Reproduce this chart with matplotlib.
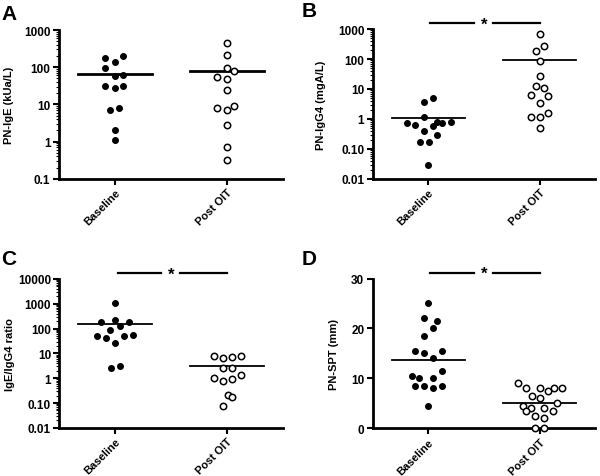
import numpy as np
import matplotlib
matplotlib.use("Agg")
import matplotlib.pyplot as plt
import matplotlib.transforms as mtransforms
from matplotlib.ticker import LogLocator, NullFormatter

plt.rcParams['font.family'] = ['Liberation Sans', 'DejaVu Sans']
plt.rcParams['font.weight'] = 'bold'

groups = ["Baseline", "Post OIT"]

# A: PN-IgE (kUa/L)
a_base = [182, 199, 134, 94, 59, 62, 31.6, 27.5, 31.6, 7.1, 7.8, 2.0, 1.1]
a_base_dx = [-0.09, 0.075, 0, -0.09, 0, 0.075, -0.09, 0, 0.075, -0.04, 0.035, 0, 0]
a_post = [440, 215, 95, 79, 53, 48, 24, 7.8, 9.2, 7.0, 2.86, 0.71, 0.33]
a_post_dx = [0, 0, 0, 0.07, -0.09, 0, 0, -0.09, 0.07, 0, 0, 0, 0]
a_medians = [66, 77]
a_ticks = [0.1, 1, 10, 100, 1000]
a_ticklabels = ["0.1", "1", "10", "100", "1000"]

# B: PN-IgG4 (mgA/L)
b_base = [5.0, 3.8, 1.14, 0.72, 0.63, 0.60, 0.81, 0.72, 0.76, 0.39, 0.29, 0.175, 0.175, 0.030]
b_base_dx = [0.045, -0.035, -0.035, -0.19, -0.12, 0.045, 0.08, 0.125, 0.2, -0.035, 0.08, -0.075, 0.005, 0]
b_post = [680, 278, 180, 88, 28, 12.9, 11.0, 6.5, 5.8, 3.3, 1.14, 1.14, 1.58, 0.5]
b_post_dx = [0, 0.04, -0.035, 0, 0, -0.035, 0.04, -0.08, 0.08, 0, -0.08, 0, 0.08, 0]
b_medians = [1.1, 93]
b_ticks = [0.01, 0.1, 1, 10, 100, 1000]
b_ticklabels = ["0.01", "0.10", "1", "10", "100", "1000"]

# C: IgE/IgG4 ratio
c_base = [1050, 190, 229, 190, 132, 89, 49, 41, 49, 56, 26, 2.6, 3.1]
c_base_dx = [0, -0.125, 0, 0.12, 0.04, -0.045, -0.165, -0.085, 0.08, 0.16, 0, -0.04, 0.04]
c_post = [8.0, 6.8, 7.4, 8.0, 2.5, 2.5, 1.06, 0.78, 0.95, 1.3, 0.21, 0.17, 0.075]
c_post_dx = [-0.115, -0.035, 0.045, 0.125, -0.035, 0.045, -0.115, -0.035, 0.045, 0.125, 0.01, 0.045, -0.035]
c_medians = [155, 3.0]
c_ticks = [0.01, 0.1, 1, 10, 100, 1000, 10000]
c_ticklabels = ["0.01", "0.10", "1", "10", "100", "1000", "10000"]

# D: PN-SPT (mm)
d_base = [25, 22, 21.5, 20, 18.5, 15.5, 15, 15.5, 14, 11.5, 10.5, 10, 10, 8.5, 8.5, 8, 8.5, 4.5]
d_base_dx = [0, -0.04, 0.08, 0.045, -0.04, -0.12, -0.04, 0.12, 0.045, 0.12, -0.15, -0.08, 0.045, -0.12, -0.04, 0.045, 0.12, 0]
d_post = [9, 8, 8, 7.5, 8, 8, 6.5, 6, 4.5, 4, 4, 5, 3.5, 3.5, 2.5, 2, 0, 0]
d_post_dx = [-0.19, -0.12, 0, 0.08, 0.13, 0.2, -0.07, 0, -0.15, -0.08, 0.04, 0.16, -0.12, 0.12, -0.04, 0.04, -0.04, 0.04]
d_medians = [13.7, 5.0]
d_ticks = [0, 10, 20, 30]
d_ticklabels = ["0", "10", "20", "30"]

fig = plt.figure(figsize=(6, 4.77), dpi=100)


def draw_panel(rect, letter, letter_xy, ylabel, label_x, base, base_dx, post, post_dx,
               medians, ticks, ticklabels, log=True, star=False, median_lw=1.3):
    ax = fig.add_axes(rect)
    ax.plot([0 + d for d in base_dx], base, 'o', ms=4, mfc='black', mec='black',
            ls='none', clip_on=False, zorder=3)
    ax.plot([1 + d for d in post_dx], post, 'o', ms=4.6, mfc='white', mec='black',
            mew=1.1, ls='none', clip_on=False, zorder=3)
    for i, m in enumerate(medians):
        ax.plot([i - 0.33, i + 0.33], [m, m], color='black', lw=median_lw, zorder=2)

    if log:
        ax.set_yscale('log')
        ax.yaxis.set_minor_locator(LogLocator(base=10, subs=np.arange(2, 10), numticks=100))
        ax.yaxis.set_minor_formatter(NullFormatter())
    ax.set_ylim(ticks[0], ticks[-1])
    ax.set_yticks(ticks)
    ax.set_yticklabels(ticklabels)
    ax.set_xlim(-0.5, 1.5)
    ax.set_xticks([0, 1])
    ax.set_xticklabels(groups, rotation=45, ha='right', rotation_mode='anchor')

    for s in ['top', 'right']:
        ax.spines[s].set_visible(False)
    for s in ['left', 'bottom']:
        ax.spines[s].set_linewidth(2)
    ax.tick_params(axis='both', which='major', length=4, width=1.5, pad=2)
    ax.tick_params(axis='y', labelsize=8.5)
    ax.tick_params(axis='x', labelsize=8)
    ax.tick_params(axis='y', which='minor', length=2.5, width=0.8)
    ax.set_ylabel(ylabel, fontsize=8, fontweight='bold')
    ax.yaxis.set_label_coords(label_x, 0.5)

    if star:
        trans = mtransforms.blended_transform_factory(ax.transData, ax.transAxes)
        ax.plot([0.02, 0.41], [1.04, 1.04], color='black', lw=1.6, transform=trans, clip_on=False)
        ax.plot([0.58, 1.0], [1.04, 1.04], color='black', lw=1.6, transform=trans, clip_on=False)
        ax.text(0.5, 1.035, '*', transform=trans, ha='center', va='center',
                fontsize=12, fontweight='bold')

    fig.text(letter_xy[0], letter_xy[1], letter, fontsize=15, fontweight='bold',
             ha='left', va='top')
    return ax


draw_panel([0.098, 0.623, 0.373, 0.312], 'A', (0.002, 0.99), 'PN-IgE (kUa/L)', -0.20,
           a_base, a_base_dx, a_post, a_post_dx, a_medians, a_ticks, a_ticklabels,
           median_lw=2)
draw_panel([0.621, 0.623, 0.371, 0.314], 'B', (0.503, 0.995), 'PN-IgG4 (mgA/L)', -0.21,
           b_base, b_base_dx, b_post, b_post_dx, b_medians, b_ticks, b_ticklabels,
           star=True)
draw_panel([0.099, 0.101, 0.373, 0.312], 'C', (0.002, 0.475), 'IgE/IgG4 ratio', -0.20,
           c_base, c_base_dx, c_post, c_post_dx, c_medians, c_ticks, c_ticklabels,
           star=True)
draw_panel([0.621, 0.100, 0.371, 0.314], 'D', (0.503, 0.475), 'PN-SPT (mm)', -0.15,
           d_base, d_base_dx, d_post, d_post_dx, d_medians, d_ticks, d_ticklabels,
           log=False, star=True)

fig.savefig('out.png', dpi=100)
